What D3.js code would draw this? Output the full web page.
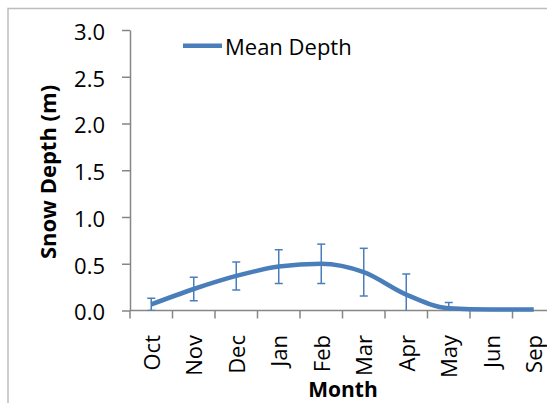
<!DOCTYPE html>
<html>
<head>
<meta charset="utf-8">
<script src="https://cdn.jsdelivr.net/npm/d3@7"></script>
<style>
  html, body { margin: 0; padding: 0; background: #fff; }
  svg { display: block; font-family: "Open Sans", sans-serif; }
</style>
</head>
<body>
<svg id="chart" width="547" height="403"></svg>
<script>
// Monthly mean snow depth (m) with standard deviation
const months = ["Oct", "Nov", "Dec", "Jan", "Feb", "Mar", "Apr", "May", "Jun", "Sep"];
const meanDepth = [0.065, 0.23, 0.37, 0.47, 0.50, 0.41, 0.17, 0.025, 0.01, 0.01];
const depthError = [0.065, 0.125, 0.15, 0.18, 0.21, 0.255, 0.22, 0.06, 0, 0];
const yTicks = [0, 0.5, 1.0, 1.5, 2.0, 2.5, 3.0];

const data = months.map((m, i) => ({ month: m, mean: meanDepth[i], err: depthError[i] }));

const svg = d3.select("#chart");
const blue = "#4a7ebb";
const axisGrey = "#868686";

// outer chart-area frame (continues past the window edge)
svg.append("rect")
  .attr("x", 8).attr("y", 8.5)
  .attr("width", 600).attr("height", 450)
  .attr("fill", "none")
  .attr("stroke", "#bdbdbd")
  .attr("stroke-width", 1.5);

const x = d3.scaleBand().domain(months).range([130, 555]);
const y = d3.scaleLinear().domain([0, 3]).range([310.5, 30]);

// clip area for the plotted series
svg.append("clipPath").attr("id", "plot")
  .append("rect").attr("x", 130).attr("y", 0).attr("width", 430).attr("height", 310.5);

// y axis
const yAxis = svg.append("g")
  .attr("transform", "translate(130,0)")
  .call(d3.axisLeft(y).tickValues(yTicks).tickFormat(d3.format(".1f")).tickSize(8).tickSizeOuter(0).tickPadding(17));
yAxis.select(".domain").attr("stroke", axisGrey).attr("stroke-width", 1.5);
yAxis.selectAll(".tick line").attr("stroke", axisGrey).attr("stroke-width", 1.5);
yAxis.selectAll(".tick text")
  .attr("font-family", "Open Sans").attr("font-size", 22).attr("fill", "#000")
  .attr("dy", "0.42em");

// x axis with ticks on category boundaries
const xAxisG = svg.append("g").attr("transform", "translate(0,310.5)");
xAxisG.append("line")
  .attr("x1", 130).attr("x2", 555)
  .attr("stroke", axisGrey).attr("stroke-width", 1.5);
xAxisG.selectAll("line.bound")
  .data(months)
  .join("line")
  .attr("class", "bound")
  .attr("x1", d => x(d)).attr("x2", d => x(d))
  .attr("y1", 0).attr("y2", 8)
  .attr("stroke", axisGrey).attr("stroke-width", 1.5);
xAxisG.selectAll("text")
  .data(months)
  .join("text")
  .attr("transform", d => `translate(${x(d) + x.bandwidth() / 2 + 1},24.5) rotate(-90)`)
  .attr("dy", "0.35em")
  .attr("text-anchor", "end")
  .attr("font-size", 22)
  .attr("fill", "#000")
  .text(d => d);

const cx = d => x(d.month) + x.bandwidth() / 2;

// error bars
const bars = svg.append("g").attr("clip-path", "url(#plot)")
  .selectAll("g.err")
  .data(data.filter(d => d.err > 0))
  .join("g").attr("class", "err")
  .attr("stroke", blue).attr("stroke-width", 1.5);
bars.append("line")
  .attr("x1", cx).attr("x2", cx)
  .attr("y1", d => y(d.mean + d.err)).attr("y2", d => y(d.mean - d.err));
bars.append("line")
  .attr("x1", d => cx(d) - 4).attr("x2", d => cx(d) + 4)
  .attr("y1", d => y(d.mean + d.err)).attr("y2", d => y(d.mean + d.err));
bars.append("line")
  .attr("x1", d => cx(d) - 4).attr("x2", d => cx(d) + 4)
  .attr("y1", d => y(d.mean - d.err)).attr("y2", d => y(d.mean - d.err));

// smoothed mean line
const line = d3.line()
  .x(cx)
  .y(d => y(d.mean))
  .curve(d3.curveMonotoneX);
svg.append("path")
  .datum(data)
  .attr("d", line)
  .attr("fill", "none")
  .attr("stroke", blue)
  .attr("stroke-width", 4.5)
  .attr("stroke-linejoin", "round");

// legend
svg.append("line")
  .attr("x1", 183).attr("x2", 222)
  .attr("y1", 45.7).attr("y2", 45.7)
  .attr("stroke", blue).attr("stroke-width", 4.5);
svg.append("text")
  .attr("x", 225).attr("y", 55)
  .attr("font-size", 22).attr("fill", "#000")
  .text("Mean Depth");

// axis titles
svg.append("text")
  .attr("transform", "translate(56,172) rotate(-90)")
  .attr("text-anchor", "middle")
  .attr("font-size", 22).attr("font-weight", "bold").attr("fill", "#000")
  .text("Snow Depth (m)");
svg.append("text")
  .attr("x", 343).attr("y", 397)
  .attr("text-anchor", "middle")
  .attr("font-size", 21).attr("font-weight", "bold").attr("fill", "#000")
  .text("Month");
</script>
</body>
</html>
